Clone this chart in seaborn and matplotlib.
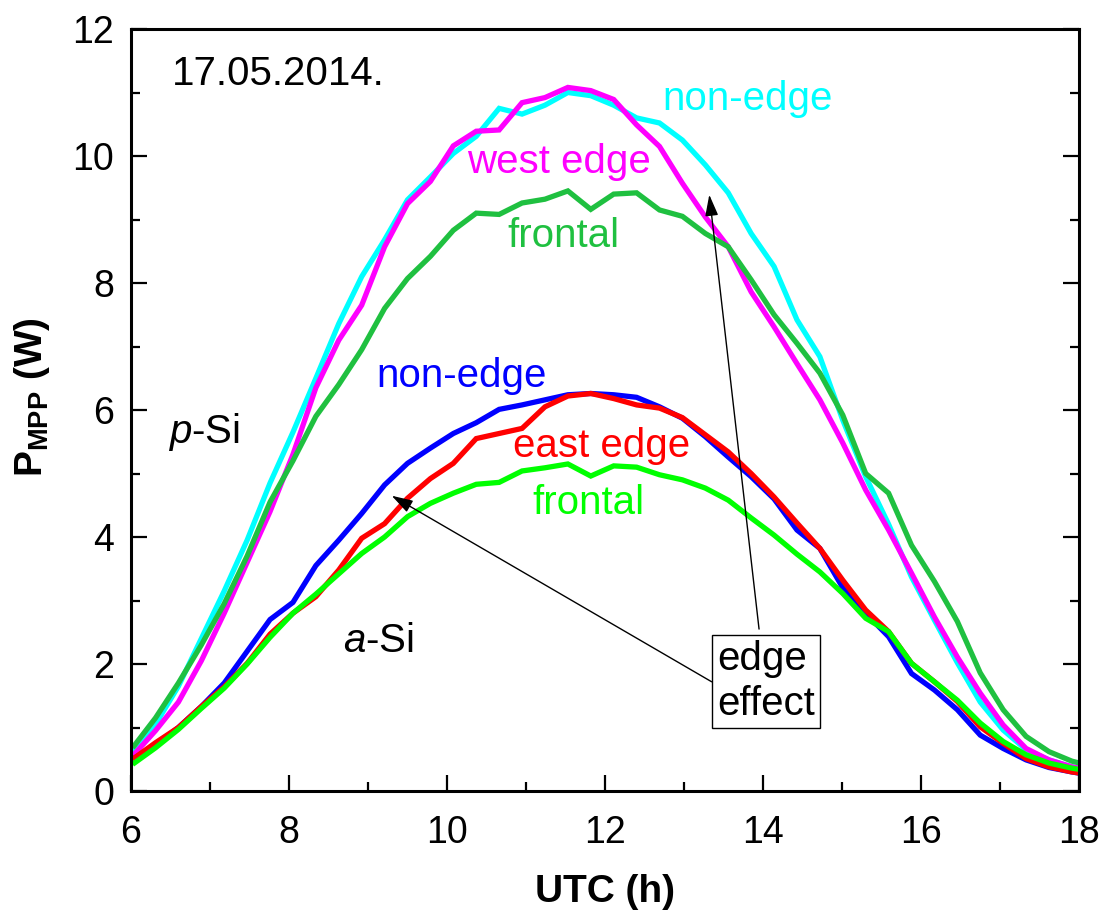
import numpy as np
import pandas as pd
import matplotlib
matplotlib.use("Agg")
import matplotlib.pyplot as plt
import seaborn as sns

# ---------------- data ----------------
utc_h = [6.02, 6.31, 6.60, 6.89, 7.18, 7.47, 7.76, 8.05, 8.34, 8.63, 8.92, 9.21,
         9.50, 9.79, 10.08, 10.37, 10.66, 10.95, 11.24, 11.53, 11.82, 12.11, 12.40,
         12.69, 12.98, 13.27, 13.56, 13.85, 14.14, 14.43, 14.72, 15.01, 15.30, 15.59,
         15.88, 16.17, 16.46, 16.75, 17.04, 17.33, 17.62, 17.91, 18.20]

psi_non_edge = [0.62, 1.05, 1.65, 2.40, 3.15, 3.95, 4.85, 5.65, 6.50, 7.36, 8.10, 8.68,
                9.31, 9.67, 10.04, 10.31, 10.75, 10.66, 10.80, 11.00, 10.95, 10.80, 10.60,
                10.52, 10.25, 9.86, 9.42, 8.78, 8.26, 7.42, 6.84, 5.84, 4.95, 4.20,
                3.37, 2.69, 2.02, 1.40, 0.96, 0.65, 0.49, 0.38, 0.30]

psi_west_edge = [0.55, 0.95, 1.40, 2.05, 2.80, 3.60, 4.40, 5.30, 6.35, 7.10, 7.65, 8.57,
                 9.25, 9.60, 10.16, 10.39, 10.41, 10.84, 10.92, 11.08, 11.03, 10.89, 10.49,
                 10.15, 9.57, 9.04, 8.57, 7.86, 7.31, 6.73, 6.16, 5.48, 4.74, 4.11,
                 3.43, 2.74, 2.11, 1.54, 1.04, 0.67, 0.49, 0.38, 0.32]

psi_frontal = [0.68, 1.15, 1.70, 2.30, 2.95, 3.70, 4.55, 5.20, 5.90, 6.40, 6.95, 7.60,
               8.07, 8.42, 8.83, 9.10, 9.08, 9.26, 9.32, 9.45, 9.16, 9.40, 9.42,
               9.15, 9.05, 8.78, 8.57, 8.05, 7.50, 7.05, 6.58, 5.92, 5.00, 4.69,
               3.87, 3.30, 2.67, 1.86, 1.28, 0.86, 0.62, 0.47, 0.38]

asi_non_edge = [0.50, 0.72, 1.00, 1.33, 1.70, 2.20, 2.70, 2.97, 3.55, 3.95, 4.37, 4.82,
                5.16, 5.40, 5.63, 5.80, 6.01, 6.08, 6.16, 6.24, 6.26, 6.24, 6.20,
                6.05, 5.87, 5.58, 5.26, 4.95, 4.60, 4.11, 3.82, 3.20, 2.80, 2.43,
                1.85, 1.59, 1.28, 0.88, 0.67, 0.49, 0.37, 0.30, 0.24]

asi_east_edge = [0.50, 0.76, 1.00, 1.33, 1.64, 2.01, 2.47, 2.80, 3.06, 3.48, 3.98, 4.21,
                 4.61, 4.92, 5.16, 5.55, 5.63, 5.71, 6.05, 6.22, 6.26, 6.18, 6.08,
                 6.03, 5.88, 5.61, 5.34, 5.00, 4.63, 4.22, 3.82, 3.32, 2.85, 2.51,
                 2.01, 1.72, 1.41, 1.01, 0.75, 0.51, 0.38, 0.30, 0.25]

asi_frontal = [0.42, 0.68, 0.97, 1.30, 1.62, 2.00, 2.42, 2.80, 3.10, 3.42, 3.74, 4.00,
               4.32, 4.53, 4.69, 4.83, 4.86, 5.04, 5.09, 5.15, 4.96, 5.12, 5.10,
               4.98, 4.90, 4.77, 4.58, 4.30, 4.03, 3.73, 3.45, 3.11, 2.72, 2.51,
               2.01, 1.72, 1.43, 1.07, 0.78, 0.57, 0.44, 0.36, 0.30]

series_names = ["p-Si non-edge", "p-Si west edge", "p-Si frontal",
                "a-Si non-edge", "a-Si east edge", "a-Si frontal"]
series_values = [psi_non_edge, psi_west_edge, psi_frontal,
                 asi_non_edge, asi_east_edge, asi_frontal]
series_colors = ["#00FFFF", "#FF00FF", "#1FC040", "#0000FF", "#FF0000", "#00FF00"]

x_ticks = [6, 8, 10, 12, 14, 16, 18]
y_ticks = [0, 2, 4, 6, 8, 10, 12]

# ---------------- style ----------------
sns.set_theme(style="ticks")
plt.rcParams["font.family"] = ["Liberation Sans", "DejaVu Sans"]
plt.rcParams["mathtext.fontset"] = "custom"
plt.rcParams["mathtext.rm"] = "Liberation Sans"
plt.rcParams["mathtext.it"] = "Liberation Sans:italic"
plt.rcParams["mathtext.bf"] = "Liberation Sans:bold"
plt.rcParams["text.color"] = "black"

FS_TICK = 27
FS = 29

df = pd.concat(
    [pd.DataFrame({"UTC": utc_h, "P": vals, "series": name})
     for name, vals in zip(series_names, series_values)],
    ignore_index=True)

fig = plt.figure(figsize=(11.04, 9.14), dpi=100)
ax = fig.add_axes([131 / 1104, 1 - 791 / 914, 948 / 1104, 762 / 914])

sns.lineplot(data=df, x="UTC", y="P", hue="series", hue_order=series_names,
             palette=dict(zip(series_names, series_colors)), estimator=None,
             sort=False, linewidth=3.8, legend=False, ax=ax)
for ln in ax.lines:
    ln.set_solid_joinstyle("miter")
    ln.set_solid_capstyle("butt")

ax.set_xlim(6, 18)
ax.set_ylim(0, 12)
ax.set_xticks(x_ticks)
ax.set_yticks(y_ticks)
ax.set_xticks([7, 9, 11, 13, 15, 17], minor=True)
ax.set_yticks([1, 3, 5, 7, 9, 11], minor=True)
ax.tick_params(which="both", direction="in", left=True, right=True, bottom=True,
               top=False, labelsize=FS_TICK, width=1.6, color="black",
               labelcolor="black")
ax.tick_params(which="major", length=11.5)
ax.tick_params(axis="y", which="major", pad=12)
ax.tick_params(axis="x", which="major", pad=17)
ax.tick_params(which="minor", length=6.5)
for s in ax.spines.values():
    s.set_linewidth(2.2)
    s.set_color("black")

ax.set_xlabel("UTC (h)", fontsize=28, fontweight="bold", labelpad=17, color="black")
ax.set_ylabel(r"$\mathbf{P}_{\mathbf{MPP}}$ (W)", fontsize=28, fontweight="bold",
              color="black")
ax.yaxis.set_label_coords(-0.083, 0.517)

# ---------------- annotations ----------------
ax.text(6.52, 11.12, "17.05.2014.", fontsize=FS, ha="left", va="baseline", color="black")
ax.text(12.72, 10.72, "non-edge", color="#00FFFF", fontsize=FS, ha="left", va="baseline")
ax.text(10.25, 9.73, "west edge", color="#FF00FF", fontsize=FS, ha="left", va="baseline")
ax.text(10.77, 8.57, "frontal", color="#1FC040", fontsize=FS, ha="left", va="baseline")
ax.text(9.11, 6.36, "non-edge", color="#0000FF", fontsize=FS, ha="left", va="baseline")
ax.text(10.84, 5.26, "east edge", color="#FF0000", fontsize=FS, ha="left", va="baseline")
ax.text(11.08, 4.36, "frontal", color="#00FF00", fontsize=FS, ha="left", va="baseline")
ax.text(6.47, 5.48, r"$\mathit{p}$-Si", fontsize=FS, ha="left", va="baseline", color="black")
ax.text(8.68, 2.19, r"$\mathit{a}$-Si", fontsize=FS, ha="left", va="baseline", color="black")

arrow_kw = dict(arrowstyle="-|>,head_length=0.65,head_width=0.2", color="black",
                lw=1.0, shrinkA=0, shrinkB=0, mutation_scale=20)
ax.annotate("", xy=(9.30, 4.65), xytext=(13.35, 1.72), arrowprops=arrow_kw)
ax.annotate("", xy=(13.32, 9.39), xytext=(13.95, 2.55), arrowprops=arrow_kw)

ax.text(13.42, 1.72, "edge\neffect", fontsize=FS, ha="left", va="center",
        linespacing=1.22, color="black",
        bbox=dict(boxstyle="square,pad=0.13", facecolor="white",
                  edgecolor="black", linewidth=1.0))

fig.savefig("out.png", dpi=100)
